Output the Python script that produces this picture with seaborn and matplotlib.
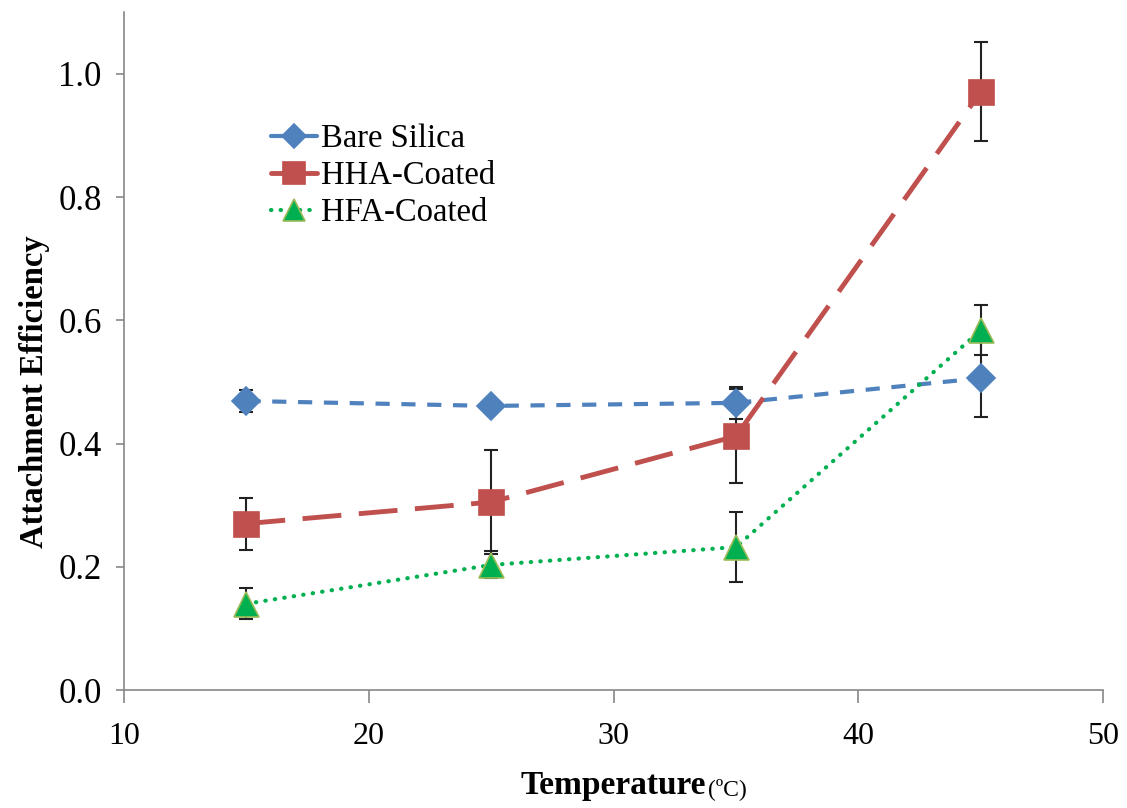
"""Attachment efficiency vs temperature, redrawn with seaborn."""

import matplotlib

matplotlib.use("Agg")
import matplotlib.pyplot as plt
import pandas as pd
import seaborn as sns

# Data
temperature = [15, 25, 35, 45]

bare_silica = [0.469, 0.461, 0.466, 0.506]
bare_silica_err = [0.018, 0.0, 0.026, 0.063]

hha_coated = [0.270, 0.305, 0.412, 0.971]
hha_coated_err = [0.042, 0.085, 0.076, 0.080]

hfa_coated = [0.140, 0.203, 0.232, 0.584]
hfa_coated_err = [0.025, 0.022, 0.057, 0.040]

series_names = ["Bare Silica", "HHA-Coated", "HFA-Coated"]
x_ticks = [10, 20, 30, 40, 50]
y_ticks = [0.0, 0.2, 0.4, 0.6, 0.8, 1.0]

# Look of each series (Excel-like colours, markers and dashes)
styles = {
    "Bare Silica": dict(color="#4F81BD", marker="D", ms=14, mec="#4F81BD",
                        dashes=(3.4, 2.8), lw=3.0, leg_dashes=None),
    "HHA-Coated": dict(color="#C0504D", marker="s", ms=18, mec="#C0504D",
                       dashes=(8, 3.6), lw=3.5, leg_dashes=None),
    "HFA-Coated": dict(color="#00B050", marker="^", ms=18, mec="#9BBB59",
                       dashes=(0.1, 2.2), lw=3.0, leg_dashes=(0.1, 2.2)),
}

frame = pd.DataFrame({
    "temperature": temperature * 3,
    "value": bare_silica + hha_coated + hfa_coated,
    "err": bare_silica_err + hha_coated_err + hfa_coated_err,
    "series": [name for name in series_names for _ in temperature],
})

sns.set_theme(style="white")
plt.rcParams["font.family"] = ["Liberation Serif", "DejaVu Sans"]
plt.rcParams["text.color"] = "black"
plt.rcParams["axes.labelcolor"] = "black"
plt.rcParams["xtick.color"] = "black"
plt.rcParams["ytick.color"] = "black"

fig, ax = plt.subplots(figsize=(11.27, 8.08), dpi=100)
fig.subplots_adjust(left=0.110, right=0.979, top=0.985, bottom=0.146)

for name in series_names:
    part = frame[frame["series"] == name]
    st = styles[name]
    # error bars first so the markers sit on top
    ax.errorbar(part["temperature"], part["value"], yerr=part["err"], fmt="none",
                ecolor="#222222", elinewidth=1.5, capsize=5, capthick=1.5, zorder=2)
    sns.lineplot(data=part, x="temperature", y="value", ax=ax, label=name,
                 color=st["color"], marker=st["marker"], markersize=st["ms"],
                 markeredgecolor=st["mec"], markeredgewidth=1.2,
                 linewidth=st["lw"], errorbar=None, zorder=3)
    ax.lines[-1].set_dashes(st["dashes"])
    ax.lines[-1].set_dash_capstyle("round" if name == "HFA-Coated" else "butt")

ax.set_xlim(10, 50)
ax.set_ylim(0, 1.1)
ax.set_xticks(x_ticks)
ax.set_yticks(y_ticks)
ax.set_xticklabels([str(t) for t in x_ticks])
ax.set_yticklabels([f"{t:.1f}" for t in y_ticks])
ax.tick_params(axis="both", direction="out", color="#888888", width=1.2,
               bottom=True, left=True)
ax.tick_params(axis="y", labelsize=25, length=6, pad=10)
ax.tick_params(axis="x", labelsize=23, length=9, pad=14)

for side in ["top", "right"]:
    ax.spines[side].set_visible(False)
for side in ["left", "bottom"]:
    ax.spines[side].set_color("#888888")
    ax.spines[side].set_linewidth(1.2)

ax.set_ylabel("Attachment Efficiency", fontsize=23.5, fontweight="bold")
ax.yaxis.set_label_coords(-0.076, 0.44)
ax.set_xlabel("Temperature", fontsize=24, fontweight="bold", labelpad=14)
ax.annotate("(ºC)", xy=(1, 0), xycoords=ax.xaxis.label, xytext=(1, 1),
            textcoords="offset points", fontsize=17, va="bottom", ha="left")

leg = ax.legend(loc="upper left", bbox_to_anchor=(0.137, 0.855), frameon=False,
                fontsize=23.5, handlelength=1.4, handletextpad=0.12, labelspacing=0.2,
                borderaxespad=0)
for handle, name in zip(leg.get_lines(), series_names):
    st = styles[name]
    if st["leg_dashes"] is None:
        handle.set_linestyle("-")
    else:
        handle.set_dashes(st["leg_dashes"])
    handle.set_markersize(st["ms"] * 0.85)

fig.savefig("out.png", dpi=100)
